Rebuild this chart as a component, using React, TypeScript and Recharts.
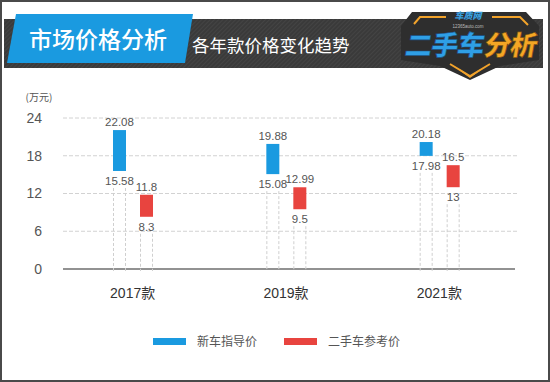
import React from 'react';
import { BarChart, Bar, XAxis, YAxis, CartesianGrid } from 'recharts';

const categories = ['2017款', '2019款', '2021款'];
const newLow = [15.58, 15.08, 17.98];
const newHigh = [22.08, 19.88, 20.18];
const usedLow = [8.3, 9.5, 13];
const usedHigh = [11.8, 12.99, 16.5];
const yTicks = [0, 6, 12, 18, 24];
const seriesNames = ['新车指导价', '二手车参考价'];
const unitLabel = '(万元)';
const title = '市场价格分析';
const subtitle = '各年款价格变化趋势';

const BLUE = '#1a9ae0';
const RED = '#e8443f';
const W = 550;
const H = 382;
const M_TOP = 118;
const M_BOTTOM = 83;
const XAXIS_H = 30;
const PLOT_BOTTOM = H - M_BOTTOM - XAXIS_H;
const FONT = '"Liberation Sans", Arial, "Noto Sans CJK SC", sans-serif';
const CJK = '"Noto Sans CJK SC", "Liberation Sans", sans-serif';

const data = categories.map((c, i) => ({
  name: c,
  newLow: newLow[i],
  newHigh: newHigh[i],
  usedLow: usedLow[i],
  usedHigh: usedHigh[i],
  newRange: [newLow[i], newHigh[i]],
  usedRange: [usedLow[i], usedHigh[i]],
}));

const makeShape = (lowKey: string, highKey: string, fill: string) => (p: any) => {
  const { x, y, width, height, payload, background } = p;
  const base = background && background.height ? background.y + background.height : PLOT_BOTTOM;
  const bottom = y + height;
  const cx = x + width / 2;
  return (
    <g>
      <line x1={x + 0.5} x2={x + 0.5} y1={bottom + 17} y2={base + 2} stroke="#cfcfcf" strokeDasharray="3 2" />
      <line x1={x + width - 0.5} x2={x + width - 0.5} y1={bottom + 17} y2={base + 2} stroke="#cfcfcf" strokeDasharray="3 2" />
      <rect x={x} y={y} width={width} height={height} fill={fill} />
      <text x={cx} y={y - 4} textAnchor="middle" fontSize={11.5} fill="#555" fontFamily={FONT}>
        {String(payload[highKey])}
      </text>
      <text x={cx} y={bottom + 14} textAnchor="middle" fontSize={11.5} fill="#555" fontFamily={FONT}>
        {String(payload[lowKey])}
      </text>
    </g>
  );
};

const renderHLine = (p: any) => {
  const isBase = Math.abs(p.y1 - PLOT_BOTTOM) < 1;
  return (
    <line
      key={p.key ?? `h-${p.y1}`}
      x1={p.x1 + 7}
      x2={p.x2 + (isBase ? -1 : 1)}
      y1={p.y1}
      y2={p.y2}
      stroke={isBase ? '#6e6e6e' : '#d2d2d2'}
      strokeWidth={isBase ? 1.3 : 1}
      strokeDasharray={isBase ? undefined : '4 2'}
    />
  );
};

const Header = () => (
  <g>
    <defs>
      <pattern id="hatch" width="3" height="3" patternUnits="userSpaceOnUse" patternTransform="rotate(45)">
        <rect width="3" height="3" fill="#3a3a3a" />
        <line x1="0" y1="0" x2="0" y2="3" stroke="#4d4d4d" strokeWidth="1" />
      </pattern>
    </defs>
    <rect x={4} y={19} width={539} height={49} fill="url(#hatch)" />
    <polygon points="16,14 193,14 185,63 7,63" fill={BLUE} />
    <text x={29} y={48} fontSize={23} fill="#fff" fontFamily={CJK} fontWeight={500}>{title}</text>
    <text x={192} y={52} fontSize={17.5} fill="#fff" fontFamily={CJK}>{subtitle}</text>
    {/* logo */}
    <polygon points="412,12 526,12 539,26 539,60 500,66 470,80 440,66 401,60 401,26" fill="#2e2e2e" />
    <polyline points="414,24 420,17 446,17" fill="none" stroke="#f2a32b" strokeWidth={2} />
    <polyline points="492,17 520,17 528,25" fill="none" stroke="#f2a32b" strokeWidth={2} />
    <polyline points="450,64 470,76 490,64" fill="none" stroke="#f2a32b" strokeWidth={2} />
    <polyline points="460,70 470,77 480,70" fill="none" stroke="#f2a32b" strokeWidth={1.5} />
    <text x={468} y={19} textAnchor="middle" fontSize={9} fontWeight={900} fill="#3aa0e0" fontFamily={CJK} fontStyle="italic">车质网</text>
    <text x={468} y={27.5} textAnchor="middle" fontSize={4.5} fill="#bbb" fontFamily={FONT}>12365auto.com</text>
    <g transform="translate(404,55) skewX(-10)">
      <text x={0} y={0} fontSize={27} fontWeight={900} fill="#2f9fe6" fontFamily={CJK} stroke="#1b4f80" strokeWidth={0.6} letterSpacing={-1}>二手车</text>
      <text x={79} y={0} fontSize={27} fontWeight={900} fill="#f4a625" fontFamily={CJK} stroke="#7a4f10" strokeWidth={0.6} letterSpacing={-1}>分析</text>
    </g>
  </g>
);

const Overlay = () => (
  <svg width={W} height={H} style={{ position: 'absolute', left: 0, top: 0, pointerEvents: 'none' }}>
    <Header />
    <text x={39} y={101} textAnchor="middle" fontSize={10} fill="#555" fontFamily={CJK}>{unitLabel}</text>
    <rect x={153} y={338} width={33} height={7} fill={BLUE} />
    <text x={197} y={346} fontSize={12} fill="#555" fontFamily={CJK}>{seriesNames[0]}</text>
    <rect x={284} y={338} width={33} height={7} fill={RED} />
    <text x={328} y={346} fontSize={12} fill="#555" fontFamily={CJK}>{seriesNames[1]}</text>
    <rect x={1} y={1} width={W - 2} height={H - 2} fill="none" stroke="#4a4a4a" strokeWidth={2} />
  </svg>
);

export default function App() {
  return (
    <div style={{ position: 'absolute', left: 0, top: 0, width: W, height: H, background: '#fff' }}>
      <BarChart
        width={W}
        height={H}
        data={data}
        margin={{ top: M_TOP, right: 34, bottom: M_BOTTOM, left: 0 }}
        barSize={13}
        barGap={14}
      >
        <CartesianGrid vertical={false} horizontal={renderHLine} />
        <XAxis
          dataKey="name"
          axisLine={false}
          tickLine={false}
          tickMargin={13}
          height={XAXIS_H}
          tick={{ fontSize: 14, fill: '#333', fontFamily: FONT }}
        />
        <YAxis
          domain={[0, 24]}
          ticks={yTicks}
          width={56}
          axisLine={false}
          tickLine={false}
          tickMargin={8}
          tick={{ fontSize: 14, fill: '#555', fontFamily: FONT }}
        />
        <Bar dataKey="newRange" name={seriesNames[0]} fill={BLUE} isAnimationActive={false} shape={makeShape('newLow', 'newHigh', BLUE)} />
        <Bar dataKey="usedRange" name={seriesNames[1]} fill={RED} isAnimationActive={false} shape={makeShape('usedLow', 'usedHigh', RED)} />
      </BarChart>
      <Overlay />
    </div>
  );
}
